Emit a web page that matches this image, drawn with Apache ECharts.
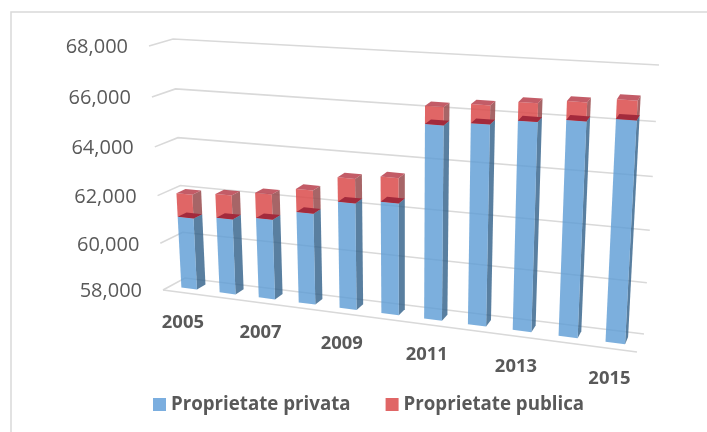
<!DOCTYPE html>
<html><head><meta charset="utf-8">
<style>html,body{margin:0;padding:0;background:#fff}#c{width:707px;height:432px}</style>
<script src="https://cdn.jsdelivr.net/npm/echarts@6/dist/echarts.min.js"></script>
</head><body><div id="c"></div>
<script>
const categories = ['2005','2006','2007','2008','2009','2010','2011','2012','2013','2014','2015'];
const shownCategories = ['2005','2007','2009','2011','2013','2015'];
const privata = [61020,61160,61320,61740,62320,62490,65620,65780,66000,66150,66310];
const publica = [990,980,1030,930,970,980,680,700,680,680,700];
const yTicks = [58000,60000,62000,64000,66000,68000];

const GL=100,GT=50,GW=500,GH=300;
function homography(q){ // unit square -> quad [TL,TR,BR,BL]
  const [p0,p1,p2,p3]=q;
  const dx1=p1[0]-p2[0],dx2=p3[0]-p2[0],sx=p0[0]-p1[0]+p2[0]-p3[0];
  const dy1=p1[1]-p2[1],dy2=p3[1]-p2[1],sy=p0[1]-p1[1]+p2[1]-p3[1];
  const den=dx1*dy2-dx2*dy1;
  const g=(sx*dy2-dx2*sy)/den,h=(dx1*sy-sx*dy1)/den;
  const a=p1[0]-p0[0]+g*p1[0],b=p3[0]-p0[0]+h*p3[0],c=p0[0];
  const d=p1[1]-p0[1]+g*p1[1],e=p3[1]-p0[1]+h*p3[1],f=p0[1];
  return (u,v)=>{const w=g*u+h*v+1;return [(a*u+b*v+c)/w,(d*u+e*v+f)/w];};
}
const back=homography([[173,39],[659,65],[644,334],[185,278]]);
const front=homography([[149,46],[652,77],[637,352],[163,290]]);
function P(u,v,d){const a=back(u,v),b=front(u,v);return [a[0]+(b[0]-a[0])*d,a[1]+(b[1]-a[1])*d];}
const D0=0.27,D1=0.67,BAR=0.41;

function toUV(pt){return [(pt[0]-GL)/GW,(pt[1]-GT)/GH];}
function poly(points,fill,opacity){return {type:'polygon',shape:{points},style:{fill,opacity:opacity==null?1:opacity,stroke:null}};}
function barRender(colors){
  return function(params,api){
    const c=api.value(0),lo=api.value(1),hi=api.value(2);
    const pLo=toUV(api.coord([c,lo])),pHi=toUV(api.coord([c,hi]));
    const hw=api.size([1,0])[0]/GW*BAR/2;
    const u0=pLo[0]-hw,u1=pLo[0]+hw,v0=pLo[1],v1=pHi[1];
    return {type:'group',children:[
      poly([P(u1,v0,D1),P(u1,v0,D0),P(u1,v1,D0),P(u1,v1,D1)],colors.side,colors.a),
      poly([P(u0,v0,D1),P(u1,v0,D1),P(u1,v1,D1),P(u0,v1,D1)],colors.front,colors.a),
      poly([P(u0,v1,D1),P(u1,v1,D1),P(u1,v1,D0),P(u0,v1,D0)],colors.top,colors.ta)
    ]};
  };
}
const gridColor='#D9D9D9';
function gridRender(params,api){
  const t=api.value(0);
  const v=toUV(api.coord([0,t]))[1];
  const a=P(0,v,1),b=P(0,v,0),c=P(1,v,0);
  const kids=[{type:'polyline',shape:{points:[a,b,c]},style:{stroke:gridColor,lineWidth:1.6,fill:null}}];
  if(t===yTicks[0]) kids.push({type:'line',shape:{x1:a[0],y1:a[1],x2:P(1,v,1)[0],y2:P(1,v,1)[1]},style:{stroke:gridColor,lineWidth:1.6}});
  kids.push({type:'text',style:{text:t.toLocaleString('en-US'),x:a[0]-21,y:a[1]+1.5,align:'right',verticalAlign:'middle',font:'20px "Open Sans"',fill:'#595959'}});
  return {type:'group',children:kids};
}
function catRender(params,api){
  const i=api.value(0);
  const pt=toUV(api.coord([i,yTicks[0]]));
  const a=P(pt[0],pt[1],1);
  return {type:'text',style:{text:categories[i],x:a[0]+1-4.5*pt[0],y:a[1]+30,align:'center',verticalAlign:'middle',font:'bold 18.4px "Open Sans"',fill:'#595959'}};
}
const chart=echarts.init(document.getElementById('c'),null,{renderer:'canvas'});
chart.setOption({
  animation:false,
  backgroundColor:'#fff',
  grid:{left:GL,top:GT,width:GW,height:GH},
  xAxis:{type:'category',data:categories,show:false},
  yAxis:{type:'value',min:yTicks[0],max:yTicks[yTicks.length-1],interval:2000,show:false},
  legend:{left:148,top:390,itemWidth:13,itemHeight:13,itemGap:35,icon:'rect',
    textStyle:{fontFamily:'Open Sans',fontWeight:'bold',fontSize:18.7,color:'#595959'},
    data:[{name:'Proprietate privata',itemStyle:{color:'#7BAEDF',opacity:1}},{name:'Proprietate publica',itemStyle:{color:'#E06666',opacity:1}}]},
  graphic:[{type:'polyline',silent:true,shape:{points:[[11,432],[11,12],[707,12]]},style:{stroke:'#D9D9D9',lineWidth:1.5,fill:null}}],
  series:[
    {type:'custom',name:'grid',silent:true,z:1,clip:false,data:yTicks.map(t=>[t]),encode:{y:0},renderItem:gridRender},
    {type:'custom',name:'cats',silent:true,z:1,clip:false,data:shownCategories.map(c=>[categories.indexOf(c),yTicks[0]]),encode:{x:0,y:1},renderItem:catRender},
    {type:'custom',name:'Proprietate publica',z:3,clip:false,itemStyle:{color:'#E06666'},
      data:categories.map((c,i)=>[i,privata[i],privata[i]+publica[i]]),encode:{x:0,y:2},
      renderItem:barRender({front:'#DA4B4B',side:'#984A4C',top:'#B83F4C',a:0.85,ta:0.85})},
    {type:'custom',name:'Proprietate privata',z:4,clip:false,itemStyle:{color:'#7BAEDF'},
      data:categories.map((c,i)=>[i,yTicks[0],privata[i]]),encode:{x:0,y:2},
      renderItem:barRender({front:'#5B9BD5',side:'#2F5F88',top:'#A32A3C',a:0.8,ta:1})}
  ]
});
</script></body></html>
